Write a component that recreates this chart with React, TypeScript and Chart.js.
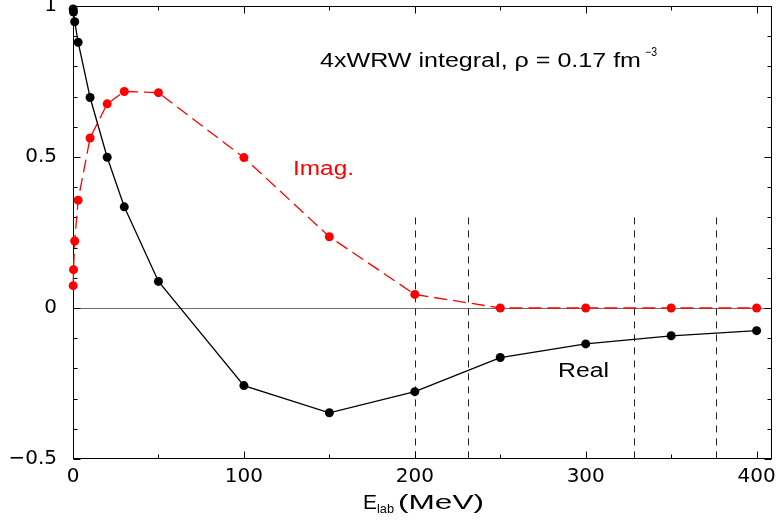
import React, { useEffect, useRef } from "react";
import { Chart, registerables } from "chart.js";

Chart.register(...registerables);

// ---- data ----
const energies = [0.1, 0.3, 1, 3, 10, 20, 30, 50, 100, 150, 200, 250, 300, 350, 400];
const realValues = [0.99, 0.98, 0.948, 0.88, 0.697, 0.499, 0.335, 0.088, -0.257, -0.347, -0.277, -0.164, -0.119, -0.092, -0.075];
const imagValues = [0.074, 0.127, 0.222, 0.357, 0.563, 0.676, 0.717, 0.713, 0.498, 0.236, 0.045, 0, 0, 0, 0];
const xTickValues = [0, 100, 200, 300, 400];
const xMinorTickValues = [50, 150, 250, 350];
const yTickValues = [-0.5, 0, 0.5, 1];
const yMinorTickValues = [-0.4, -0.3, -0.2, -0.1, 0.1, 0.2, 0.3, 0.4, 0.6, 0.7, 0.8, 0.9];
const thresholdEnergies = [200, 231, 328, 376];
const thresholdTop = 0.3;
const xMin = 0;
const xMax = 409;
const yMin = -0.5;
const yMax = 1;

const SANS = '"Liberation Sans", Arial, Helvetica, sans-serif';

function stretchText(ctx: CanvasRenderingContext2D, text: string, x: number, baseline: number, size: number, width: number, color: string) {
  ctx.save();
  ctx.font = `${size}px ${SANS}`;
  const w = ctx.measureText(text).width || 1;
  ctx.translate(x, baseline);
  ctx.scale(width / w, 1);
  ctx.fillStyle = color;
  ctx.textAlign = "left";
  ctx.textBaseline = "alphabetic";
  ctx.fillText(text, 0, 0);
  ctx.restore();
}

const decorPlugin = {
  id: "decor",
  beforeDatasetsDraw(chart: any) {
    const { ctx, chartArea: a, scales } = chart;
    const x = scales.x;
    const y = scales.y;
    const seg = (x1: number, y1: number, x2: number, y2: number) => {
      ctx.beginPath();
      ctx.moveTo(x1, y1);
      ctx.lineTo(x2, y2);
      ctx.stroke();
    };
    ctx.save();
    // zero line
    ctx.lineWidth = 1;
    ctx.strokeStyle = "#707070";
    const y0 = Math.round(y.getPixelForValue(0)) + 0.5;
    seg(a.left, y0, a.right, y0);
    // dashed threshold lines
    ctx.strokeStyle = "#222";
    ctx.setLineDash([7, 6]);
    for (const e of thresholdEnergies) {
      const px = Math.round(x.getPixelForValue(e)) + 0.5;
      seg(px, y.getPixelForValue(thresholdTop), px, a.bottom);
    }
    ctx.setLineDash([]);
    // frame
    ctx.strokeStyle = "#000";
    const L = Math.round(a.left) + 0.5;
    const R = Math.round(a.right) - 0.5;
    const T = Math.round(a.top) + 0.5;
    const B = Math.round(a.bottom) - 0.5;
    ctx.strokeRect(L, T, R - L, B - T);
    // ticks (inward)
    const xt = (v: number, len: number) => {
      const px = Math.round(x.getPixelForValue(v)) + 0.5;
      seg(px, B, px, B - len);
      seg(px, T, px, T + len);
    };
    const yt = (v: number, len: number) => {
      const py = Math.round(y.getPixelForValue(v)) + 0.5;
      seg(L, py, L + len, py);
      seg(R, py, R - len, py);
    };
    xTickValues.forEach((v) => xt(v, 7));
    xMinorTickValues.forEach((v) => xt(v, 4));
    yTickValues.forEach((v) => yt(v, 7));
    yMinorTickValues.forEach((v) => yt(v, 4));
    ctx.restore();
  },
  afterDraw(chart: any) {
    const ctx = chart.ctx;
    stretchText(ctx, "4xWRW integral, \u03c1 = 0.17 fm", 320, 67, 19.5, 321, "#000");
    stretchText(ctx, "\u22123", 645, 56, 12, 12, "#000");
    stretchText(ctx, "Imag.", 293, 175, 20, 61, "#ff0000");
    stretchText(ctx, "Real", 558, 377, 20, 51, "#000");
    stretchText(ctx, "E", 363, 509, 21, 14, "#000");
    stretchText(ctx, "lab", 377, 513, 13, 17, "#000");
    stretchText(ctx, "(MeV)", 398, 509, 21, 86, "#000");
  },
};

export default function App() {
  const canvasRef = useRef<HTMLCanvasElement | null>(null);

  useEffect(() => {
    if (!canvasRef.current) return;
    const realData = energies.map((e, i) => ({ x: e, y: realValues[i] }));
    const imagData = energies.map((e, i) => ({ x: e, y: imagValues[i] }));
    const chart = new Chart(canvasRef.current, {
      type: "line",
      data: {
        datasets: [
          {
            label: "Real",
            data: realData,
            borderColor: "#000",
            backgroundColor: "#000",
            borderWidth: 1.3,
            pointRadius: 4.5,
            pointBorderWidth: 0,
            pointHoverRadius: 4.5,
            tension: 0,
            clip: false,
          },
          {
            label: "Imag.",
            data: imagData,
            borderColor: "#ff0000",
            backgroundColor: "#ff0000",
            borderWidth: 1.3,
            borderDash: [13, 6],
            pointRadius: 4.5,
            pointBorderWidth: 0,
            pointHoverRadius: 4.5,
            tension: 0,
            clip: false,
          },
        ],
      },
      options: {
        animation: false,
        responsive: false,
        devicePixelRatio: 1,
        events: [],
        layout: { padding: { top: 6, right: 5, left: 0, bottom: 0 }, autoPadding: false },
        plugins: { legend: { display: false }, tooltip: { enabled: false }, title: { display: false } },
        scales: {
          x: {
            type: "linear",
            min: xMin,
            max: xMax,
            afterBuildTicks: (s: any) => {
              s.ticks = xTickValues.map((v) => ({ value: v }));
            },
            ticks: {
              font: { family: "DejaVu Sans", size: 20 },
              color: "#000",
              padding: 6,
              maxRotation: 0,
              autoSkip: false,
              callback: (v: any) => String(v),
            },
            grid: { display: false, drawTicks: false },
            border: { display: false },
            afterFit: (s: any) => {
              s.height = 61;
              s.paddingLeft = 0;
              s.paddingRight = 0;
            },
          },
          y: {
            type: "linear",
            min: yMin,
            max: yMax,
            afterBuildTicks: (s: any) => {
              s.ticks = yTickValues.map((v) => ({ value: v }));
            },
            ticks: {
              font: { family: "DejaVu Sans", size: 20 },
              color: "#000",
              padding: 16,
              autoSkip: false,
              callback: (v: any) => String(v).replace("-", "\u2212"),
            },
            grid: { display: false, drawTicks: false },
            border: { display: false },
            afterFit: (s: any) => {
              s.width = 73;
              s.paddingTop = 0;
              s.paddingBottom = 0;
            },
          },
        },
      },
      plugins: [decorPlugin],
    });
    return () => chart.destroy();
  }, []);

  return (
    <div style={{ position: "absolute", left: 0, top: 0, width: 777, height: 520, background: "#fff" }}>
      <canvas ref={canvasRef} width={777} height={520} style={{ display: "block", width: 777, height: 520 }} />
    </div>
  );
}
